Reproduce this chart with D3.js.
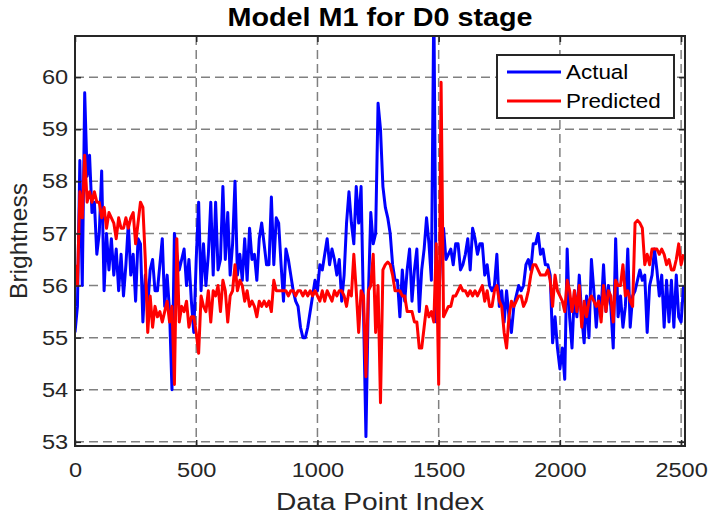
<html>

<head>
    <title>Model M1 for D0 stage</title>
    <script src='https://d3js.org/d3.v7.min.js'></script>
    <style>
        body { margin: 0; background: #fff; }
        text { font-family: "Liberation Sans", Arial, Helvetica, sans-serif; fill: #262626; }
        .grid line { stroke: #808080; stroke-width: 1.5; stroke-dasharray: 9,5; }
        .axis path, .axis line { stroke: #262626; }
        .axis text { font-size: 20.5px; }
    </style>
</head>

<body>
    <svg id="chart"></svg>
    <script>
        // sampled every 10 data points
        var step = 10;
        var xTicks = [0, 500, 1000, 1500, 2000, 2500];
        var yTicks = [53, 54, 55, 56, 57, 58, 59, 60];

        var actual = [
            55.1, 55.6, 58.4, 56.0, 59.7, 58.1, 58.5, 57.4, 57.6, 56.6,
            57.0, 58.2, 55.9, 57.0, 56.3, 56.9, 56.2, 56.7, 55.9, 56.6,
            55.8, 56.4, 57.2, 56.2, 56.6, 55.7, 56.9, 56.8, 55.3, 56.2,
            55.6, 56.3, 56.5, 55.9, 55.9, 56.4, 56.9, 55.6, 56.2, 55.5,
            54.0, 57.0, 56.6, 56.3, 56.5, 56.7, 56.0, 56.5, 55.7, 55.1,
            56.5, 57.6, 55.9, 56.8, 56.0, 56.6, 57.6, 56.2, 57.6, 56.3,
            56.5, 57.9, 56.5, 57.4, 56.2, 56.8, 58.0, 56.2, 56.6, 56.1,
            56.9, 56.1, 57.1, 56.5, 56.6, 56.1, 56.9, 57.2, 56.8, 56.4,
            56.4, 57.7, 56.4, 57.3, 57.2, 56.4, 55.7, 56.7, 56.5, 56.2,
            55.9, 55.7, 55.6, 55.2, 55.0, 55.0, 55.2, 55.5, 55.8, 56.1,
            55.9, 56.4, 56.3, 56.6, 56.9, 56.4, 56.7, 56.5, 56.2, 56.5,
            55.7, 56.2, 57.2, 57.8, 57.2, 56.8, 57.9, 57.2, 57.9, 55.5,
            53.1, 55.8, 57.4, 56.8, 57.0, 59.5, 59.0, 57.9, 57.5, 57.3,
            57.0, 56.4, 56.1, 56.1, 55.4, 56.3, 55.7, 56.3, 56.7, 55.7,
            56.3, 56.7, 55.5, 56.3, 56.7, 57.3, 56.8, 56.1, 61.5, 55.3,
            55.7, 56.7, 57.1, 56.5, 56.6, 56.7, 56.4, 56.8, 56.8, 56.3,
            56.4, 56.6, 56.9, 56.3, 57.1, 56.9, 56.6, 56.8, 56.8, 56.2,
            56.4, 56.0, 55.9, 56.0, 56.6, 55.6, 55.9, 55.3, 55.9, 55.4,
            55.1, 55.6, 55.8, 56.0, 55.9, 56.0, 56.4, 56.5, 56.3, 56.8,
            56.8, 57.0, 56.6, 56.7, 56.4, 56.4, 56.2, 54.9, 55.4, 54.8,
            54.4, 54.8, 54.2, 56.7, 55.4, 54.8, 55.9, 55.4, 56.2, 55.4,
            54.9, 55.8, 55.0, 56.5, 55.9, 55.2, 55.8, 55.5, 56.4, 55.5,
            56.0, 55.6, 54.8, 56.9, 55.4, 55.8, 55.2, 55.6, 56.7, 55.2,
            55.8, 55.9, 56.1, 56.3, 56.1, 56.2, 55.1, 56.0, 56.2, 56.7,
            56.3, 55.8, 56.2, 55.2, 56.1, 55.3, 56.1, 55.2, 56.2, 55.4,
            55.3, 56.0
        ];

        var predicted = [
            56.4, 56.0, 57.8, 57.3, 58.5, 57.6, 57.8, 57.6, 57.8, 57.6,
            57.6, 57.3, 57.5, 57.1, 57.4, 57.3, 57.2, 56.9, 57.3, 57.1,
            57.1, 57.3, 57.1, 57.3, 57.4, 56.8, 57.2, 57.6, 57.5, 56.5,
            55.1, 55.8, 55.2, 55.6, 55.4, 55.5, 55.3, 55.5, 55.7, 55.3,
            55.6, 54.1, 56.9, 55.3, 55.6, 55.5, 55.7, 55.2, 55.4, 55.4,
            55.1, 54.7, 55.8, 55.6, 55.5, 55.9, 55.3, 55.9, 55.8, 56.0,
            55.5, 56.1, 55.9, 55.3, 55.8, 55.9, 56.4, 55.9, 56.1, 56.0,
            55.7, 55.9, 55.6, 55.7, 55.6, 55.4, 55.7, 55.6, 55.7, 55.6,
            55.7, 55.5, 56.1, 55.9, 55.9, 55.9, 55.9, 55.9, 55.8, 55.9,
            55.9, 55.8, 55.9, 55.9, 55.8, 55.9, 55.8, 55.9, 55.8, 55.9,
            55.8, 55.7, 55.9, 55.7, 55.9, 55.8, 55.7, 55.9, 55.8, 55.9,
            55.9, 55.8, 55.6, 55.9, 55.8, 56.6, 55.9, 55.1, 55.9, 55.8,
            54.25, 55.9, 56.0, 56.6, 55.1, 56.0, 53.75, 56.3, 56.4, 56.45,
            56.4, 56.2, 55.9, 55.9, 55.9, 55.8, 55.8, 55.5, 55.5, 55.5,
            55.3, 55.3, 54.8, 54.8, 55.2, 55.6, 55.4, 55.5, 55.3, 56.8,
            54.1, 59.9, 55.4, 55.5, 55.6, 55.6, 55.8, 55.8, 55.9, 56.0,
            55.9, 55.9, 55.8, 55.9, 55.8, 55.9, 55.8, 55.9, 56.0, 55.7,
            55.9, 55.6, 55.6, 55.9, 56.0, 55.7, 55.6, 55.1, 54.8, 55.4,
            55.7, 55.6, 55.7, 55.8, 55.8, 55.6, 55.7, 55.9, 56.2, 56.4,
            56.4, 56.3, 56.2, 56.2, 56.2, 56.3, 56.1, 55.6, 56.2, 55.9,
            55.8, 55.7, 55.5, 56.1, 55.9, 55.5, 55.9, 55.5, 56.0, 55.2,
            55.7, 55.4, 55.7, 55.8, 55.7, 55.6, 55.7, 55.3, 56.0, 55.5,
            55.9, 55.8, 55.3, 56.1, 56.0, 56.0, 56.4, 55.8, 55.9, 55.7,
            55.6, 57.2, 57.25, 57.2, 57.1, 56.4, 56.6, 56.4, 56.7, 56.7,
            56.7, 56.6, 56.7, 56.6, 56.4, 56.5, 56.3, 56.3, 56.5, 56.8,
            56.4, 56.6
        ];

        var seriesNames = ["Actual", "Predicted"];
        var seriesColors = ["#0000ff", "#ff0000"];

        var W = 710, H = 522;
        var margin = { top: 36, right: 25, bottom: 76, left: 75 };
        var width = W - margin.left - margin.right, height = H - margin.top - margin.bottom;
        var sx = 1.15; // the picture is a little wider than tall, text too

        var x = d3.scaleLinear().domain([0, 2516]).range([0, width]);
        var y = d3.scaleLinear().domain([52.92, 60.79]).range([height, 0]);

        var svg = d3.select("#chart").attr("width", W).attr("height", H);
        var g = svg.append("g").attr("transform", "translate(" + margin.left + "," + margin.top + ")");

        svg.append("defs").append("clipPath").attr("id", "clip")
            .append("rect").attr("width", width).attr("height", height);

        // grid
        g.append("g").attr("class", "grid").selectAll("line").data(xTicks).enter().append("line")
            .attr("x1", function (d) { return x(d); }).attr("x2", function (d) { return x(d); })
            .attr("y1", 0).attr("y2", height);
        g.append("g").attr("class", "grid").selectAll("line").data(yTicks).enter().append("line")
            .attr("x1", 0).attr("x2", width)
            .attr("y1", function (d) { return y(d); }).attr("y2", function (d) { return y(d); });

        // lines
        var line = d3.line()
            .x(function (d, i) { return x(i * step); })
            .y(function (d) { return y(d); });
        var lines = g.append("g").attr("clip-path", "url(#clip)");
        [actual, predicted].forEach(function (s, k) {
            lines.append("path").datum(s)
                .attr("fill", "none")
                .attr("stroke", seriesColors[k])
                .attr("stroke-width", 3)
                .attr("stroke-linejoin", "round")
                .attr("d", line);
        });

        // axes (ticks pointing inward, on all four sides)
        g.append("g").attr("class", "axis").attr("transform", "translate(0," + height + ")")
            .call(d3.axisBottom(x).tickValues(xTicks).tickFormat(d3.format("d")).tickSizeInner(-6).tickSizeOuter(0).tickPadding(16))
            .call(function (a) { a.select(".domain").remove(); })
            .selectAll("text").attr("transform", "scale(" + sx + ",1)");
        g.append("g").attr("class", "axis")
            .call(d3.axisLeft(y).tickValues(yTicks).tickSizeInner(-6).tickSizeOuter(0).tickPadding(6))
            .call(function (a) { a.select(".domain").remove(); })
            .selectAll("text").attr("transform", "scale(" + sx + ",1)");
        g.append("g").attr("class", "axis")
            .call(d3.axisTop(x).tickValues(xTicks).tickSizeInner(-6).tickSizeOuter(0).tickFormat(""))
            .call(function (a) { a.select(".domain").remove(); });
        g.append("g").attr("class", "axis").attr("transform", "translate(" + width + ",0)")
            .call(d3.axisRight(y).tickValues(yTicks).tickSizeInner(-6).tickSizeOuter(0).tickFormat(""))
            .call(function (a) { a.select(".domain").remove(); });
        g.selectAll(".axis line").attr("stroke-width", 1.5);

        g.append("rect").attr("width", width).attr("height", height)
            .attr("fill", "none").attr("stroke", "#262626").attr("stroke-width", 2);

        // titles
        svg.append("text").attr("transform", "translate(" + (margin.left + width / 2) + ",26) scale(" + sx + ",1)")
            .attr("text-anchor", "middle").style("font-size", "25px").style("font-weight", "bold")
            .style("fill", "#000").text("Model M1 for D0 stage");
        svg.append("text").attr("transform", "translate(" + (margin.left + width / 2) + ",510) scale(" + sx + ",1)")
            .attr("text-anchor", "middle").style("font-size", "24.5px").text("Data Point Index");
        svg.append("text").attr("transform", "translate(27," + (margin.top + height / 2) + ") rotate(-90)")
            .attr("text-anchor", "middle").style("font-size", "24.5px").text("Brightness");

        // legend
        var lg = svg.append("g").attr("transform", "translate(497,55)");
        lg.append("rect").attr("width", 177).attr("height", 63)
            .attr("fill", "#fff").attr("stroke", "#262626").attr("stroke-width", 2);
        seriesNames.forEach(function (name, k) {
            var ly = 17 + k * 29;
            lg.append("line").attr("x1", 10).attr("x2", 64).attr("y1", ly).attr("y2", ly)
                .attr("stroke", seriesColors[k]).attr("stroke-width", 3);
            lg.append("text").attr("transform", "translate(69," + (ly + 7) + ") scale(" + sx + ",1)")
                .style("font-size", "19.5px").style("fill", "#000").text(name);
        });
    </script>
</body>

</html>
